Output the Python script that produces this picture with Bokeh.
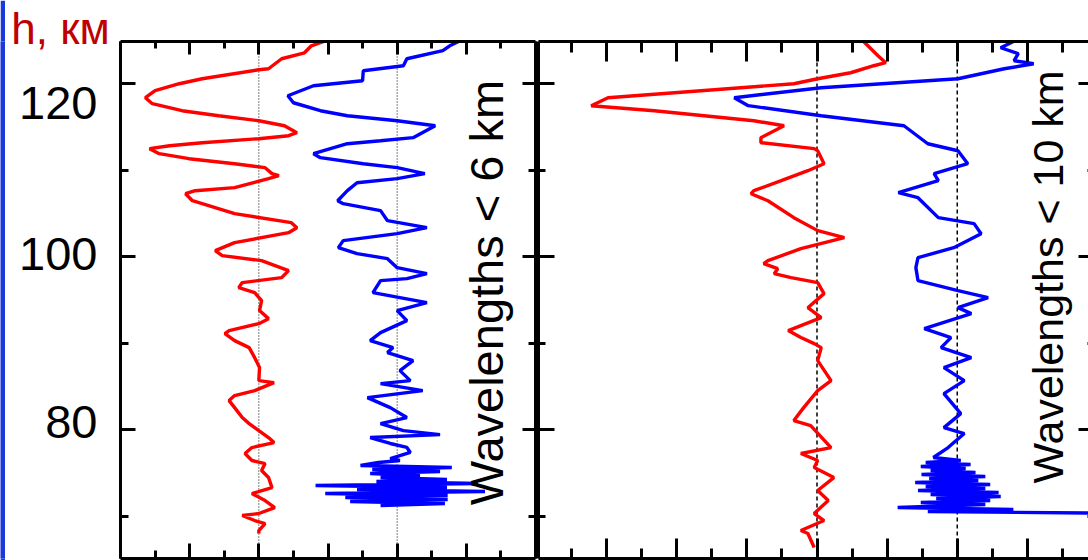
import numpy as np
from bokeh.plotting import figure
from bokeh.layouts import row
from bokeh.models import Range1d, LinearAxis, FixedTicker, Span, Label
from bokeh.core.properties import value
from bokeh.embed import file_html
from bokeh.resources import INLINE

# ---------------- data ----------------
h_ticks = [80, 100, 120]
h_minor_ticks = [70, 90, 110]
h_tick_labels = ["80", "100", "120"]
y_title = "h, км"

left_x_major = [-20, -10, 0, 10, 20, 30, 40]
left_x_minor = [-15, -5, 5, 15, 25, 35]
right_x_major = [-40, -30, -20, -10, 0, 10, 20, 30, 40]
right_x_minor = [-35, -25, -15, -5, 5, 15, 25, 35]

left_label = "Wavelengths < 6 km"
right_label = "Wavelengths < 10 km"

# left panel, red profile (zero line at 0)
left_red_h = [125.0, 124.39, 123.58, 122.89, 121.73, 121.62, 120.58, 120.0, 119.19, 118.38,
              117.69, 116.88, 116.30, 115.72, 115.14, 114.34, 113.99, 113.64, 113.18, 112.83,
              112.49, 111.91, 111.33, 110.75, 110.29, 109.60, 109.36, 109.02, 107.98, 107.63,
              107.28, 106.47, 104.97, 103.93, 103.35, 102.77, 101.62, 100.69, 100.12, 99.54,
              98.38, 97.57, 97.00, 96.42, 95.84, 94.91, 93.76, 92.83, 92.25, 91.45,
              91.10, 90.29, 89.48, 88.32, 87.17, 85.66, 85.43, 84.51, 83.93, 83.35,
              82.54, 81.39, 80.69, 79.88, 79.08, 78.50, 77.92, 77.23, 76.42, 76.07,
              75.26, 74.45, 73.29, 72.60, 71.79, 70.98, 70.29, 70.06, 69.48, 69.13,
              68.32, 67.98]
left_red_x = [9.8, 7.6, 6.6, 3.3, 1.4, 0.0, -8.2, -11.5, -15.0, -16.4,
              -15.4, -11.1, -5.8, 0.0, 3.7, 5.5, 4.3, 0.0, -8.2, -12.9,
              -15.8, -14.4, -10.1, -3.5, 0.9, 1.9, 2.9, 1.4, -3.5, -9.2,
              -10.6, -9.6, -3.5, 4.7, 5.5, 4.3, -3.5, -6.3, -5.3, 0.4,
              4.3, 3.3, -2.4, -2.9, -0.6, 0.4, 0.1, 1.4, 0.0, -4.3,
              -4.9, -3.5, -1.4, -0.6, 0.1, 0.0, 2.2, -0.6, -3.5, -4.3,
              -3.5, -2.4, -1.4, 0.0, 1.4, 2.2, -1.0, -2.0, -1.0, 0.9,
              0.4, 1.4, 1.9, -1.0, 0.9, 2.3, 0.0, -2.4, -0.6, 0.9,
              0.0, 0.0]

# left panel, blue profile (zero line at 20)
left_blue_h = [124.97, 124.39, 123.82, 122.89, 122.08, 121.50, 120.35, 119.77, 118.61, 117.80,
               116.88, 116.30, 115.72, 115.14, 113.76, 113.41, 113.06, 111.91, 111.45, 110.75,
               110.29, 109.60, 109.02, 108.55, 107.63, 106.47, 106.13, 105.32, 104.16, 103.35,
               102.66, 101.85, 101.04, 100.35, 99.77, 98.73, 98.03, 97.46, 97.23, 95.84,
               94.68, 93.76, 92.60, 91.21, 90.29, 89.48, 88.90, 87.98, 86.82, 85.66,
               85.32, 84.51, 83.70, 82.54, 81.39, 80.69, 79.88, 79.42, 79.08, 78.39,
               77.93, 77.35, 77.00, 76.65, 76.42, 76.19, 75.84, 75.61, 75.38, 75.15,
               74.92, 74.69, 74.46, 74.23, 73.99, 73.76, 73.53, 73.30, 73.07, 72.84,
               72.61, 72.37, 72.14, 71.91, 71.68, 71.45, 71.22]
left_blue_x = [29.1, 27.6, 26.6, 21.4, 20.9, 15.1, 15.0, 7.9, 4.2, 5.0,
               8.9, 12.8, 20.0, 25.5, 22.3, 17.6, 12.8, 7.9, 8.9, 15.1,
               20.0, 24.0, 20.0, 14.2, 12.8, 11.4, 12.2, 17.6, 18.6, 24.3,
               20.0, 12.2, 11.5, 14.2, 18.6, 20.0, 24.3, 21.4, 17.6, 16.5,
               24.3, 20.0, 21.4, 17.6, 16.1, 19.4, 18.6, 22.3, 20.4, 21.9,
               17.6, 23.7, 15.7, 19.0, 21.4, 17.6, 20.9, 26.2, 16.1, 19.0,
               21.4, 21.9, 20.4, 19.0, 20.4, 17.3, 14.7, 27.9, 16.4, 26.2,
               16.1, 23.3, 17.6, 27.2, 17.0, 31.7, 8.2, 27.2, 14.2, 32.7,
               9.6, 27.3, 12.5, 27.3, 13.2, 26.9, 17.6]

# right panel, red profile (zero line at 0)
right_red_h = [125.0, 123.24, 122.43, 122.08, 121.27, 120.58, 120.00, 118.38, 117.46, 116.88,
               115.72, 115.14, 113.76, 113.18, 112.49, 112.25, 110.75, 109.94, 108.79, 107.63,
               107.28, 106.47, 104.51, 103.01, 102.20, 100.92, 99.54, 99.19, 98.61, 98.03,
               97.57, 97.00, 95.72, 94.10, 92.95, 91.45, 90.64, 89.94, 89.48, 87.98,
               85.66, 84.51, 82.54, 81.04, 80.46, 77.92, 77.23, 76.42, 75.61, 74.45,
               72.95, 71.79, 70.29, 69.48, 68.32, 67.98, 66.36]
right_red_x = [6.5, 8.7, 9.8, 8.1, 4.8, 0.1, -3.3, -29.8, -32.2, -23.2,
               -9.0, -4.7, -8.0, -8.0, -0.4, 0.1, 1.0, -1.3, -5.1, -9.0,
               -9.4, -7.0, -3.3, 0.1, 3.9, -2.3, -7.0, -7.6, -5.6, -6.1,
               -3.7, 0.1, 1.0, -1.3, 0.6, -4.1, -2.3, -0.4, 0.6, 0.1,
               2.0, 0.1, -1.9, -3.3, -0.9, 2.0, -2.3, 0.1, -0.4, 2.4,
               0.1, 1.6, -0.4, 1.0, -2.3, -1.3, -0.4]

# right panel, blue profile (zero line at 20)
right_blue_h = [125.0, 124.16, 123.47, 122.66, 122.31, 121.73, 120.58, 119.54, 118.38, 117.46,
                116.30, 115.14, 113.06, 112.25, 110.75, 109.60, 108.79, 107.40, 106.82, 104.51,
                103.82, 102.66, 101.04, 99.88, 98.73, 97.23, 96.07, 95.26, 94.10, 93.41,
                91.68, 90.64, 89.48, 88.32, 87.17, 85.66, 84.16, 81.85, 80.23, 79.54,
                77.92, 76.77, 76.42, 76.19, 75.96, 75.73, 75.50, 75.27, 75.03, 74.80,
                74.57, 74.34, 74.11, 73.88, 73.65, 73.42, 73.18, 72.95, 72.72, 72.49,
                72.26, 72.03, 71.80, 71.57, 71.33, 70.99, 70.76, 70.53, 70.29]
right_blue_x = [28.3, 26.2, 28.7, 28.1, 30.9, 26.7, 20.1, 0.6, -11.8, -9.8,
                0.6, 12.4, 15.8, 20.1, 21.5, 16.7, 17.3, 11.6, 14.4, 17.3,
                22.4, 23.4, 19.5, 14.4, 14.1, 14.4, 20.1, 24.4, 20.1, 22.0,
                15.3, 19.1, 17.7, 22.0, 18.1, 21.0, 18.1, 20.5, 18.1, 21.0,
                18.7, 16.6, 20.5, 15.5, 21.9, 14.8, 21.2, 16.2, 22.6, 14.9,
                24.0, 16.0, 23.0, 14.0, 24.7, 15.5, 24.0, 14.4, 25.9, 16.2,
                26.2, 17.0, 24.7, 14.8, 24.0, 11.5, 28.0, 15.8, 45.0]

for a, b in [(left_red_h, left_red_x), (left_blue_h, left_blue_x),
             (right_red_h, right_red_x), (right_blue_h, right_blue_x)]:
    assert len(a) == len(b)

# ---------------- styling ----------------
FONT = "Liberation Sans"
PX_PER_KM = 8.646
CANVAS_H = 560
BORDER_TOP = 41
BORDER_BOTTOM = 2
FRAME_H = CANVAS_H - BORDER_TOP - BORDER_BOTTOM
H_TOP = 125.0 - 1 / PX_PER_KM
H_BOTTOM = H_TOP - FRAME_H / PX_PER_KM
RED = "#ff0000"
BLUE = "#0000ff"
BAR = "#1b38dc"
LW = 3.4


def style_axis(ax, major_in, minor_in, line=True):
    ax.axis_line_color = "black" if line else None
    ax.axis_line_width = 3
    ax.major_tick_line_color = "black" if major_in > 0 else None
    ax.major_tick_line_width = 3
    ax.minor_tick_line_color = "black" if minor_in > 0 else None
    ax.minor_tick_line_width = 3
    ax.major_tick_in = major_in
    ax.major_tick_out = 0
    ax.minor_tick_in = minor_in
    ax.minor_tick_out = 0
    ax.major_label_text_font_size = "0px"
    ax.major_label_text_color = None
    ax.major_label_standoff = 0
    ax.axis_label = None


def bare_figure(width, x_range, y_range, **kw):
    p = figure(width=width, height=CANVAS_H, x_range=x_range, y_range=y_range,
               x_axis_location=None, y_axis_location=None,
               toolbar_location=None, output_backend="svg", **kw)
    p.outline_line_color = None
    p.background_fill_color = "white"
    p.border_fill_color = "white"
    p.grid.visible = False
    return p


def make_panel(width, x_start, x_end, border_left, border_right, x_major, x_minor,
               top_ticks, bottom_ticks, left_ticks, right_ticks, right_line=True):
    p = bare_figure(width, Range1d(x_start, x_end), Range1d(H_BOTTOM, H_TOP),
                    min_border_left=border_left, min_border_right=border_right,
                    min_border_top=BORDER_TOP, min_border_bottom=BORDER_BOTTOM)
    xt = FixedTicker(ticks=x_major, minor_ticks=x_minor)
    yt = FixedTicker(ticks=h_ticks, minor_ticks=h_minor_ticks)
    top = LinearAxis(ticker=xt)
    style_axis(top, *top_ticks)
    p.add_layout(top, "above")
    bottom = LinearAxis(ticker=xt)
    style_axis(bottom, *bottom_ticks)
    p.add_layout(bottom, "below")
    left = LinearAxis(ticker=yt)
    style_axis(left, *left_ticks)
    p.add_layout(left, "left")
    right = LinearAxis(ticker=yt)
    style_axis(right, *right_ticks, line=right_line)
    p.add_layout(right, "right")
    return p


# ---------------- thin blue bar at the page's left edge ----------------
pb = bare_figure(5, Range1d(0, 1), Range1d(0, 1), min_border=0)
pb.background_fill_color = BAR
pb.border_fill_color = BAR

# ---------------- label strip: y tick labels and axis title ----------------
pt = bare_figure(114, Range1d(0, 110), Range1d(H_BOTTOM, H_TOP),
                 min_border_left=0, min_border_right=4,
                 min_border_top=BORDER_TOP, min_border_bottom=BORDER_BOTTOM)
label_drop_px = [-7.6, -2.2, 19.3]   # centre of each label below its tick
label_y = [t - d / PX_PER_KM for t, d in zip(h_ticks, label_drop_px)]
pt.text(x=[92] * len(h_tick_labels), y=label_y, text=h_tick_labels,
        text_align="right", text_baseline="middle",
        text_font=value(FONT), text_font_size="47px", text_color="black")
title_axis = LinearAxis(ticker=FixedTicker(ticks=[]))
style_axis(title_axis, 0, 0, line=False)
title_axis.axis_label = y_title
title_axis.axis_label_text_font = FONT
title_axis.axis_label_text_font_size = "44px"
title_axis.axis_label_text_font_style = "normal"
title_axis.axis_label_text_color = "#c00000"
title_axis.axis_label_standoff = -11
pt.add_layout(title_axis, "above")

# ---------------- left panel ----------------
pl = make_panel(418, -20, 40, 1, 2, left_x_major, left_x_minor,
                top_ticks=(13, 7), bottom_ticks=(15, 8),
                left_ticks=(15, 8), right_ticks=(13, 7))
for zx in (0, 20):
    pl.add_layout(Span(location=zx, dimension="height", line_color="black",
                       line_width=1, line_dash="1 2", level="underlay"))
pl.line(left_red_x, left_red_h, line_color=RED, line_width=LW)
pl.line(left_blue_x, left_blue_h, line_color=BLUE, line_width=LW)
pl.add_layout(Label(x=32.95, y=95.85, text=left_label, angle=np.pi / 2,
                    text_align="center", text_baseline="middle",
                    text_font=FONT, text_font_size="47px", text_color="black"))

# ---------------- right panel ----------------
pr = make_panel(551, -39.715, 38.716, 1, 0, right_x_major, right_x_minor,
                top_ticks=(20, 11), bottom_ticks=(20, 10),
                left_ticks=(16, 7), right_ticks=(10, 1), right_line=False)
for zx in (0, 20):
    pr.add_layout(Span(location=zx, dimension="height", line_color="black",
                       line_width=1.5, line_dash="4 3", level="underlay"))
pr.line(right_red_x, right_red_h, line_color=RED, line_width=LW)
pr.line(right_blue_x, right_blue_h, line_color=BLUE, line_width=LW)
pr.add_layout(Label(x=32.94, y=97.65, text=right_label, angle=np.pi / 2,
                    text_align="center", text_baseline="middle",
                    text_font=FONT, text_font_size="43px", text_color="black"))

layout = row(pb, pt, pl, pr)
open("out.html", "w").write(file_html(layout, INLINE))
